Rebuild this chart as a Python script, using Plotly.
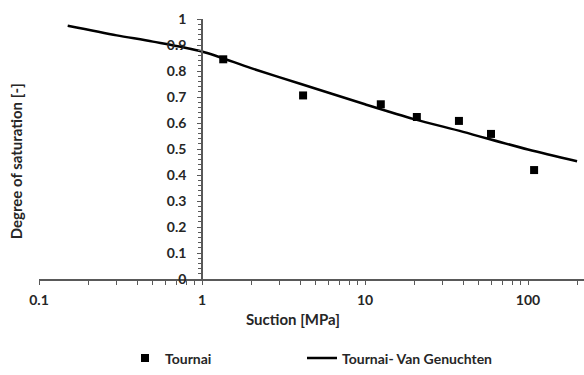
import plotly.graph_objects as go

# Measured points: suction [MPa] vs degree of saturation [-]
suction_meas = [1.35, 4.17, 12.5, 20.8, 37.7, 59.3, 109]
sr_meas = [0.845, 0.706, 0.672, 0.623, 0.608, 0.558, 0.419]

# Van Genuchten fitted curve (sampled)
suction_fit = [0.15, 0.3, 0.5, 1, 2, 4, 10, 20, 40, 100, 200]
sr_fit = [0.974, 0.937, 0.913, 0.875, 0.811, 0.751, 0.672, 0.615, 0.566, 0.498, 0.453]

y_ticks = [0, 0.1, 0.2, 0.3, 0.4, 0.5, 0.6, 0.7, 0.8, 0.9, 1]
y_ticklabels = ["0", "0.1", "0.2", "0.3", "0.4", "0.5", "0.6", "0.7", "0.8", "0.9", "1"]
x_ticks = [0.1, 1, 10, 100]
x_ticklabels = ["0.1", "1", "10", "100"]

FONT = "Lato"
TXT = "#262626"
AXC = "#595959"
TICK_SIZE = 14
TITLE_SIZE = 15

W, H = 584, 375
L, R, T, B = 39, 0, 19, 91
pw = W - L - R
ph = H - T - B
decade = 163.0
xmax_log = -1 + pw / decade
yaxis_pos = (202 - L) / pw
legend_y = (284 - 365) / ph

fig = go.Figure()
fig.add_trace(go.Scatter(
    x=suction_meas, y=sr_meas, mode="markers", name="Tournai",
    marker=dict(symbol="square", size=8, color="black"),
    legend="legend",
))
fig.add_trace(go.Scatter(
    x=suction_fit, y=sr_fit, mode="lines", name="Tournai- Van Genuchten",
    line=dict(color="black", width=2.5, shape="spline", smoothing=0.8),
    legend="legend2",
))

legend_common = dict(
    orientation="h", yanchor="middle", xanchor="left", y=legend_y,
    font=dict(family=FONT, size=TICK_SIZE, color=TXT, weight="bold"),
    bgcolor="rgba(0,0,0,0)",
)

fig.update_layout(
    width=W, height=H,
    margin=dict(l=L, r=R, t=T, b=B),
    paper_bgcolor="white", plot_bgcolor="white",
    font=dict(family=FONT, size=TICK_SIZE, color=TXT, weight="bold"),
    showlegend=True,
    legend=dict(x=(125 - L) / pw, **legend_common),
    legend2=dict(x=(302 - L) / pw, **legend_common),
    xaxis=dict(
        type="log", range=[-1, xmax_log],
        tickvals=x_ticks, ticktext=x_ticklabels,
        showgrid=False, zeroline=False,
        showline=True, linecolor=AXC, linewidth=1.5,
        ticks="outside", ticklen=4, tickcolor=AXC, tickwidth=1.2,
        minor=dict(ticks="outside", ticklen=4, tickcolor=AXC, tickwidth=1.2,
                   dtick="D1", showgrid=False),
        tickfont=dict(family=FONT, size=TICK_SIZE, color=TXT, weight="bold"),
        ticklabelstandoff=3,
        anchor="y",
    ),
    yaxis=dict(
        range=[0, 1],
        tickvals=y_ticks, ticktext=y_ticklabels,
        showgrid=False, zeroline=False,
        showline=True, linecolor=AXC, linewidth=1.5,
        ticks="outside", ticklen=4, tickcolor=AXC, tickwidth=1.2,
        minor=dict(ticks="outside", ticklen=3, tickcolor=AXC, tickwidth=1,
                   dtick=0.02, showgrid=False),
        tickfont=dict(family=FONT, size=TICK_SIZE, color=TXT, weight="bold"),
        anchor="free", position=yaxis_pos,
        ticklabelstandoff=8,
    ),
    annotations=[
        dict(text="Suction [MPa]", xref="paper", yref="paper",
             x=(293 - L) / pw, y=(284 - 325) / ph,
             xanchor="center", yanchor="middle", showarrow=False,
             font=dict(family=FONT, size=TITLE_SIZE, color=TXT, weight="bold")),
        dict(text="Degree of saturation [-]", xref="paper", yref="paper",
             x=(16 - L) / pw, y=(284 - 164) / ph, textangle=-90,
             xanchor="center", yanchor="middle", showarrow=False,
             font=dict(family=FONT, size=TITLE_SIZE, color=TXT, weight="bold")),
    ],
)

fig.write_html("out.html")
